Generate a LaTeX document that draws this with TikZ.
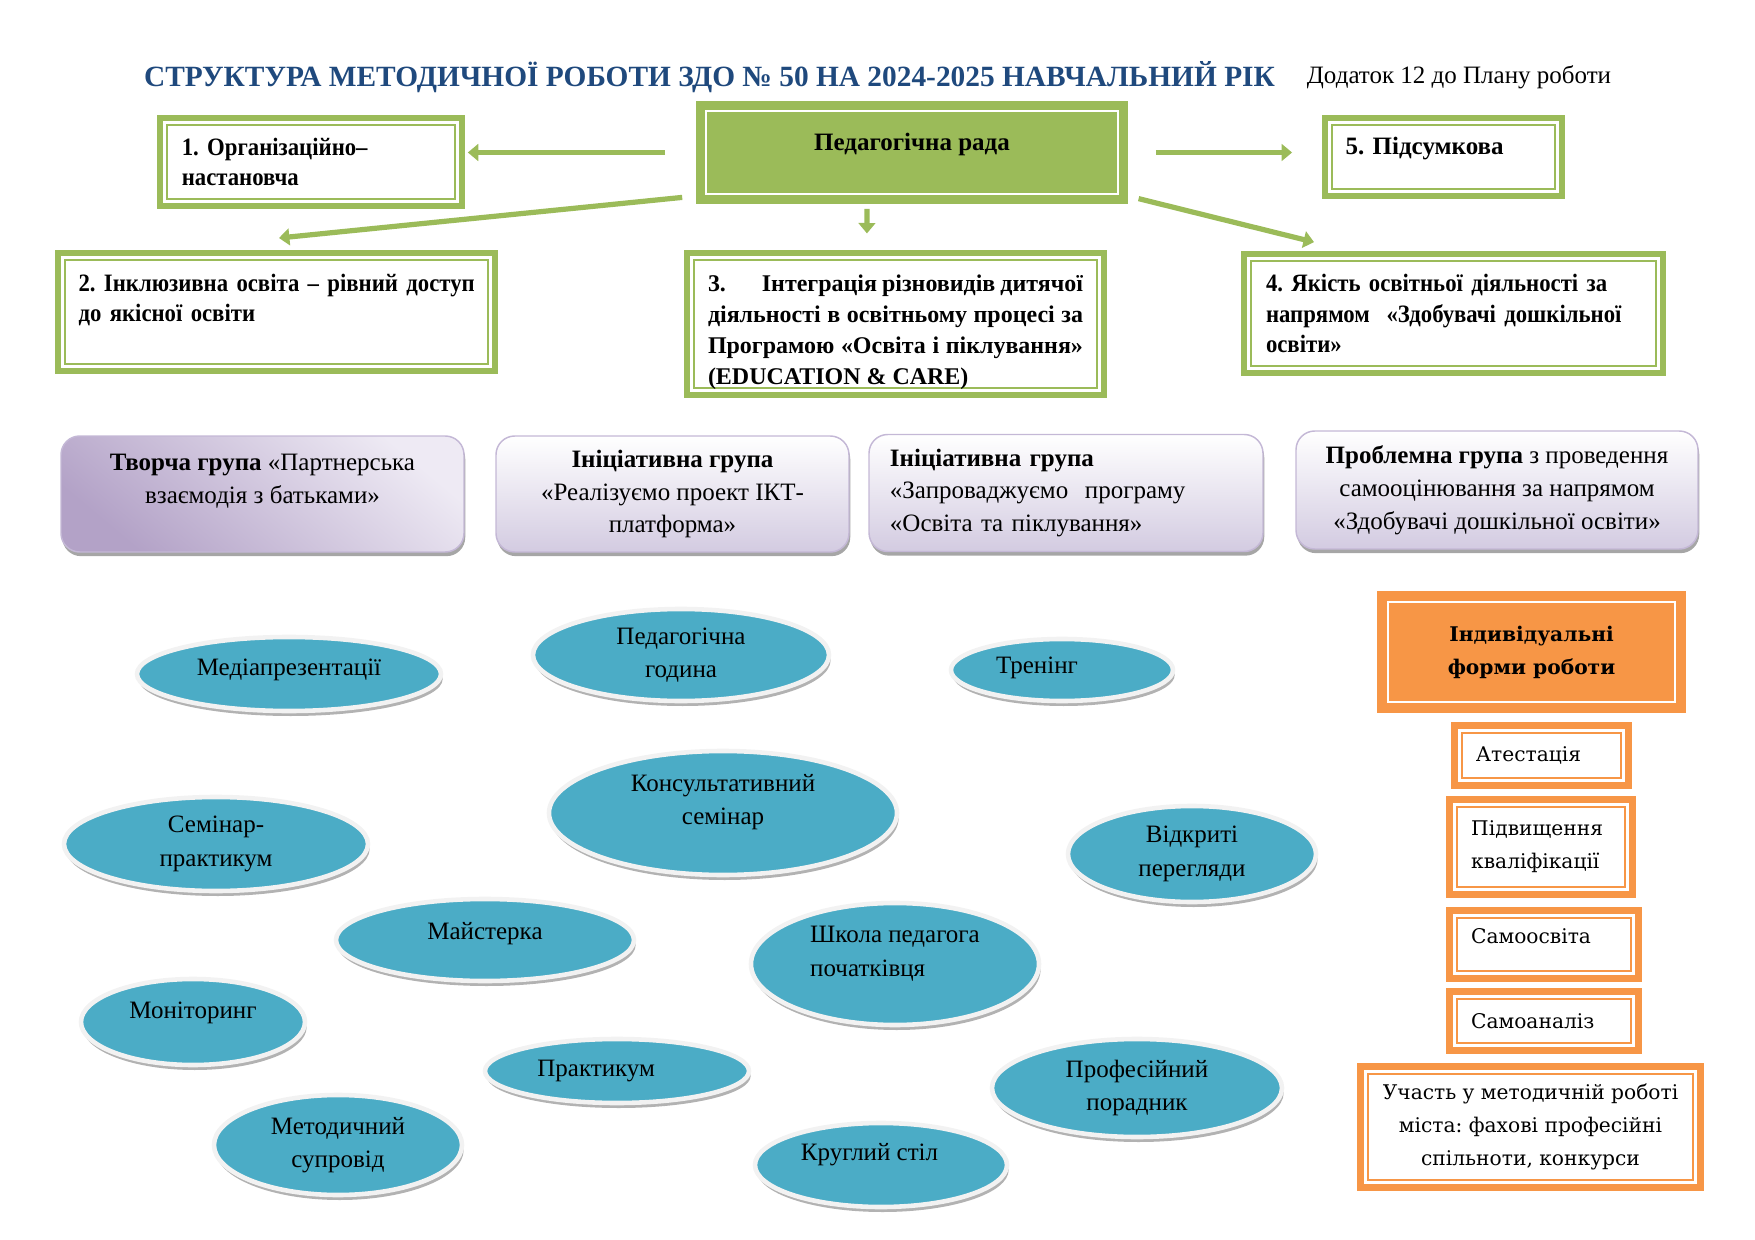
\documentclass[tikz,border=0pt]{standalone}
\usepackage{fontspec}
\setmainfont{Liberation Serif}
\newfontfamily\narrowserif{Liberation Serif}[FakeStretch=0.91]
\newfontfamily\wideserif{DejaVu Serif}
\usetikzlibrary{arrows.meta,shapes.geometric,shadows}
\definecolor{grn}{HTML}{9BBB59}
\definecolor{ttl}{HTML}{1F497D}
\definecolor{tealc}{HTML}{4BACC6}
\definecolor{org}{HTML}{F79646}
\definecolor{purpD}{HTML}{B3A2C7}
\definecolor{purpL}{HTML}{EEEAF4}
\definecolor{purpM}{HTML}{D3CBE1}
\definecolor{purpE}{HTML}{C4B8D6}
\frenchspacing
\tikzset{
  dbox/.style n args={3}{draw=#1, fill=#3, line width=2.8pt, inner sep=0pt,
    path picture={\draw[#2, line width=1pt] ([shift={(3.4pt,3.4pt)}]path picture bounding box.south west)
      rectangle ([shift={(-3.4pt,-3.4pt)}]path picture bounding box.north east);}},
  gbox/.style={dbox={grn}{grn}{white}, font=\fontsize{12}{14.5}\selectfont\bfseries},
  gnarrow/.style={gbox, align=left, font=\narrowserif\fontsize{12}{14.5}\selectfont\bfseries},
  rbox/.style={dbox={grn}{white}{grn}, font=\fontsize{12}{15}\selectfont\bfseries},
  obox/.style={dbox={org}{org}{white}, line width=3.2pt, font=\wideserif\fontsize{9.7}{15.8}\selectfont},
  otbox/.style={dbox={org}{white}{org}, line width=3.2pt, align=center, font=\wideserif\bfseries\fontsize{9.7}{15.8}\selectfont},
  pbox/.style={rounded corners=9pt, draw=purpE, line width=0.7pt, top color=white, bottom color=purpM,
    general shadow={fill=black!35, shadow xshift=0.6pt, shadow yshift=-2pt},
    inner sep=0pt, align=center, font=\fontsize{12}{15.8}\selectfont},
  oval/.style={ellipse, fill=tealc, draw=black!5, line width=2.2pt, inner sep=0pt, align=center,
    general shadow={fill=black!30, shadow xshift=0.8pt, shadow yshift=-2.4pt},
    font=\fontsize{12}{16}\selectfont},
  garrow/.style={draw=grn, line width=2.5pt, -{Triangle[width=8pt,length=5pt]}},
  lift/.style={text depth=#1},
}
\begin{document}
\begin{tikzpicture}[x=0.48pt, y=-0.48pt]
\def\px{0.48pt}
\useasboundingbox (0,0) rectangle (1755,1240);
\node[font=\bfseries\fontsize{14.1}{16}\selectfont, text=ttl] (title) at (709.5,77) {СТРУКТУРА МЕТОДИЧНОЇ РОБОТИ ЗДО №~50 НА 2024-2025 НАВЧАЛЬНИЙ РІК};
\node[font=\fontsize{12}{15}\selectfont] (annex) at (1459,77) {Додаток 12 до Плану роботи};

% річне планування
\node[rbox, minimum width=426*\px, minimum height=97*\px, lift=10pt] (rada) at (912,152.5) {Педагогічна рада};
\node[gnarrow, minimum width=302*\px, minimum height=88*\px, text width=124pt] (org) at (311,162) {1. Організаційно–\\настановча};
\node[gbox, minimum width=237*\px, minimum height=78*\px, text width=94pt, align=left, lift=11.2pt] (sum) at (1443.5,157) {5. Підсумкова};
\node[gnarrow, minimum width=437*\px, minimum height=118*\px, text width=190pt, lift=28pt] (inc) at (276.5,312) {\mbox{2. Інклюзивна освіта – рівний доступ}\\до якісної освіти};
\node[gbox, minimum width=417*\px, minimum height=142*\px, text width=180pt, align=justify, font=\fontsize{11.5}{15}\selectfont\bfseries] (int) at (895.5,324) {\rule{0pt}{16pt}3.\hspace{1.5em}Інтеграція різновидів дитячої\linebreak діяльності в освітньому процесі за\linebreak Програмою «Освіта і піклування»\linebreak (EDUCATION \& CARE)};
\node[gnarrow, minimum width=419*\px, minimum height=119*\px, text width=180pt] (qual) at (1453.5,313.5) {4. Якість освітньої діяльності за\\напрямом\ \ «Здобувачі дошкільної\\освіти»};

\draw[garrow, shorten <=14.9pt, shorten >=1.4pt] (rada.west) -- (rada.west -| org.east);
\draw[garrow, shorten <=13.4pt, shorten >=14.4pt] (rada.east) -- (rada.east -| sum.west);
\draw[garrow, shorten <=6.7pt] ([yshift=3.8pt]rada.south west) -- ([shift={(1.2pt,5.8pt)}]inc.north);
\draw[garrow, shorten <=2.4pt] ([xshift=-21.6pt]rada.south) -- ([shift={(-13.7pt,8pt)}]int.north);
\draw[garrow, shorten <=5.3pt] ([yshift=3.8pt]rada.south east) -- ([shift={(35pt,4.3pt)}]qual.north west);

% групи
\node[pbox, top color=purpL, bottom color=purpD, shading angle=-40, minimum width=403*\px, minimum height=116*\px, lift=15pt] (creat) at (262.5,494) {\textbf{Творча група} «Партнерська\\взаємодія з батьками»};
\node[pbox, minimum width=353*\px, minimum height=116*\px] (ikt) at (672.5,494) {\textbf{Ініціативна група}\\«Реалізуємо проект ІКТ-\\платформа»};
\node[pbox, minimum width=394*\px, minimum height=117*\px, text width=169pt, align=left] (prog) at (1066,493) {\textbf{Ініціативна група}\\«Запроваджуємо\ \ програму\\«Освіта та піклування»};
\node[pbox, minimum width=402*\px, minimum height=118*\px] (prob) at (1497,490) {\textbf{Проблемна група} з проведення\\самооцінювання за напрямом\\«Здобувачі дошкільної освіти»};

% колективні форми
\node[oval, minimum width=304*\px, minimum height=74*\px, lift=6.4pt] (media) at (289,674) {Медіапрезентації};
\node[oval, minimum width=296*\px, minimum height=92*\px] (hour) at (681,655) {Педагогічна\\година};
\node[oval, minimum width=222*\px, minimum height=62*\px, lift=5pt] (train) at (1062,670) {Тренінг\hspace*{24pt}};
\node[oval, minimum width=348*\px, minimum height=124*\px, lift=13.2pt] (cons) at (723,813) {Консультативний\\семінар};
\node[oval, minimum width=304*\px, minimum height=94*\px] (semin) at (216,844) {Семінар-\\практикум};
\node[oval, minimum width=248*\px, minimum height=96*\px] (open) at (1192,854) {Відкриті\\перегляди};
\node[oval, minimum width=298*\px, minimum height=82*\px, lift=9pt] (master) at (485,940) {Майстерка};
\node[oval, minimum width=288*\px, minimum height=122*\px, lift=12.2pt, align=left] (school) at (895,964) {Школа педагога\\початківця};
\node[oval, minimum width=224*\px, minimum height=86*\px, lift=11.5pt] (monit) at (193,1022) {Моніторинг};
\node[oval, minimum width=264*\px, minimum height=64*\px] (pract) at (617,1071) {Практикум\hspace*{20pt}};
\node[oval, minimum width=290*\px, minimum height=98*\px] (advice) at (1137,1088) {Професійний\\порадник};
\node[oval, minimum width=248*\px, minimum height=100*\px] (escort) at (338,1145) {Методичний\\супровід};
\node[oval, minimum width=252*\px, minimum height=84*\px, lift=13pt] (round) at (881,1165) {Круглий стіл\hspace*{11pt}};

% індивідуальні форми
\node[otbox, minimum width=302*\px, minimum height=115*\px] (indiv) at (1531.5,652) {Індивідуальні\\форми роботи};
\node[obox, minimum width=174*\px, minimum height=60*\px, text width=63pt, align=left] (att) at (1541.5,755.5) {Атестація};
\node[obox, minimum width=183*\px, minimum height=95*\px, text width=67pt, align=left] (qualif) at (1541,847) {Підвищення\\кваліфікації};
\node[obox, minimum width=189*\px, minimum height=68*\px, text width=70pt, align=left, lift=8.4pt] (self) at (1544,944.5) {Самоосвіта};
\node[obox, minimum width=189*\px, minimum height=59*\px, text width=70pt, align=left] (analys) at (1544,1021) {Самоаналіз};
\node[obox, minimum width=340*\px, minimum height=121*\px, align=center] (city) at (1530.5,1127) {Участь у методичній роботі\\міста: фахові професійні\\спільноти, конкурси};
\end{tikzpicture}
\end{document}
